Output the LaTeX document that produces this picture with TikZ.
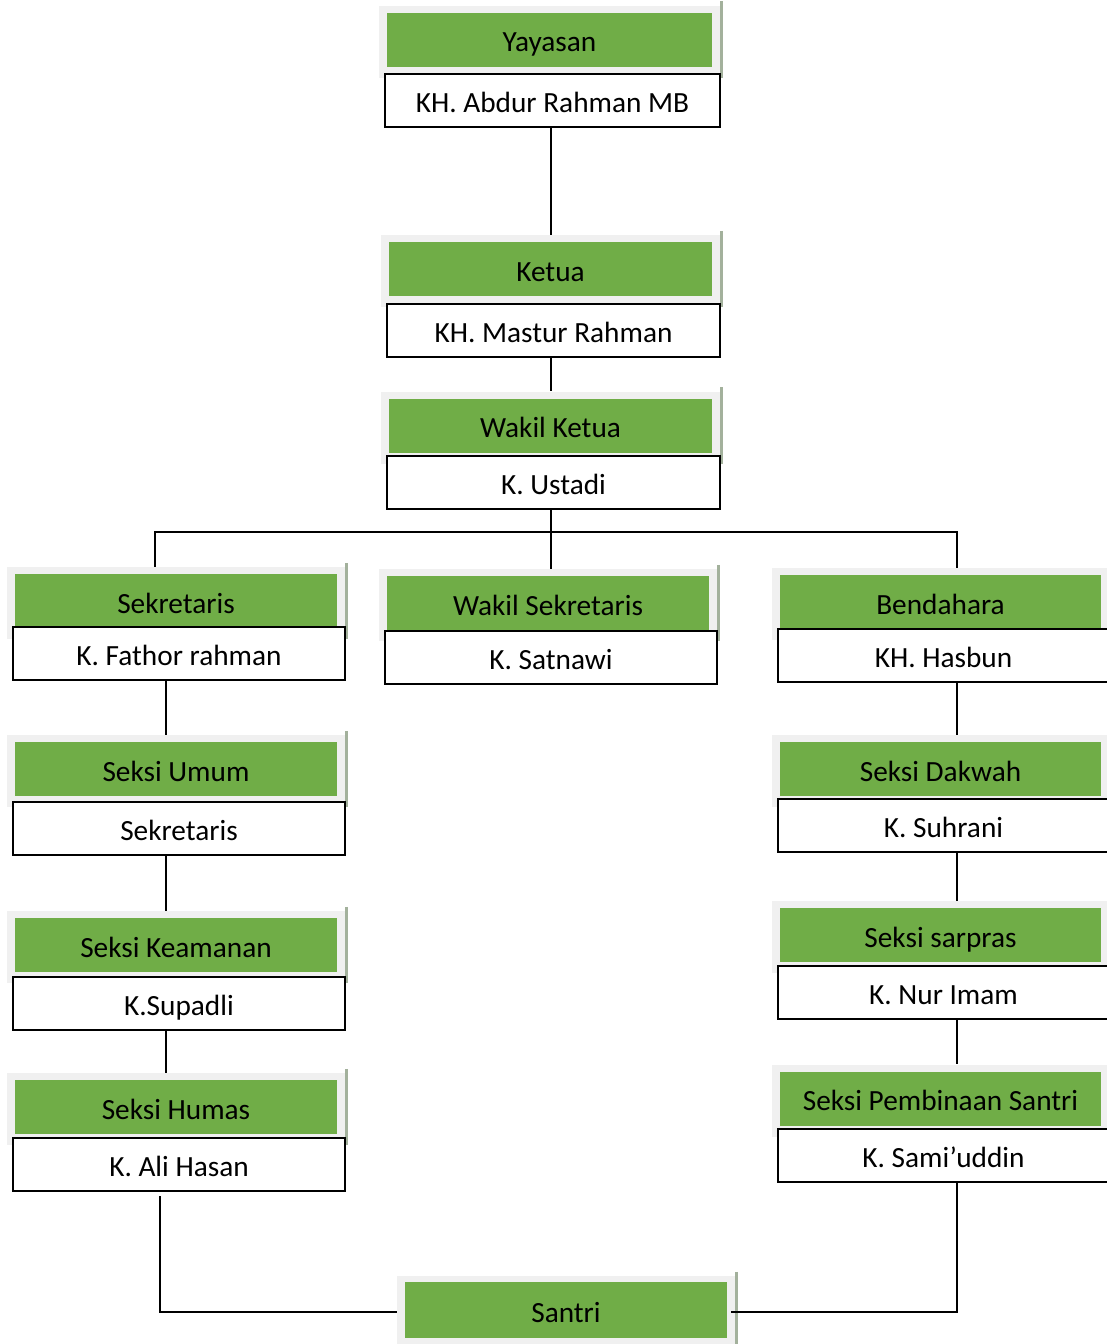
\documentclass[tikz,border=0pt]{standalone}
\usepackage{fontspec}
\setmainfont{Carlito}
\usetikzlibrary{calc,positioning}

\definecolor{headgreen}{HTML}{70AD47}
\definecolor{framegray}{HTML}{F0F0F0}
\definecolor{shadegray}{HTML}{A3B19C}

\tikzset{
  label font/.style={font=\fontsize{29.3}{35}\selectfont, text height=26, text depth=2},
  frame/.style={fill=framegray, inner sep=0pt, minimum height=72},
  head/.style={fill=headgreen, inner sep=0pt, minimum height=54, label font},
  person/.style={fill=white, draw=black, line width=2pt, inner sep=0pt, minimum height=53, label font},
  link/.style={line width=2pt, black},
  shade line/.style={line width=3pt, shadegray}
}

% #1 name, #2 x, #3 y of the green head, #4 width, #5 title, #6 person, #7 y of person
\newcommand{\orgunit}[7]{%
  \node[frame, minimum width=#4+16] (#1-f) at (#2, #3+2) {};
  \draw[shade line] ($(#1-f.north east)+(1.5,-4)$) -- ($(#1-f.south east)+(1.5,0)$);
  \node[head, minimum width=#4] (#1-t) at (#2, #3) {#5};
  \node[person, minimum width=#4+10] (#1) at (#2+3, #7) {#6};
}

\begin{document}
\begin{tikzpicture}[x=1pt, y=-1pt]
    \useasboundingbox (0,0) rectangle (1106,1344);

    \orgunit{yay}{549.5}{39.5}{325}{Yayasan}{KH. Abdur Rahman MB}{100}
    \orgunit{ket}{550.5}{269}{323}{Ketua}{KH. Mastur Rahman}{330}
    \orgunit{wk}{550.5}{425.5}{323}{Wakil Ketua}{K. Ustadi}{482.5}

    \orgunit{sek}{176}{601}{322}{Sekretaris}{K. Fathor rahman}{653.5}
    \orgunit{wsek}{548}{603}{322}{Wakil Sekretaris}{K. Satnawi}{657.5}
    \orgunit{ben}{940.5}{602}{321}{Bendahara}{KH. Hasbun}{655.5}

    \orgunit{umum}{176}{769}{322}{Seksi Umum}{Sekretaris}{828.5}
    \orgunit{keam}{176}{945}{322}{Seksi Keamanan}{K.Supadli}{1003.5}
    \orgunit{humas}{176}{1107}{322}{Seksi Humas}{K. Ali Hasan}{1164.5}

    \orgunit{dak}{940.5}{769}{321}{Seksi Dakwah}{K. Suhrani}{825}
    \orgunit{sar}{940.5}{935}{321}{Seksi sarpras}{K. Nur Imam}{992.5}
    \orgunit{pemb}{940.5}{1098.5}{321}{Seksi Pembinaan Santri}{K. Sami’uddin}{1155.5}

    % santri
    \node[frame, minimum width=338] (santri-f) at (566, 1312) {};
    \draw[shade line] ($(santri-f.north east)+(1.5,-4)$) -- ($(santri-f.south east)+(1.5,0)$);
    \node[head, minimum width=322, minimum height=56] (santri) at (566, 1310) {Santri};

    \coordinate (lcol) at (166,0);
    \coordinate (rcol) at (957,0);
    \coordinate (hx) at (160,0);
    \coordinate (bar-l) at (155,532);
    \coordinate (bar-r) at (957,532);

    \draw[link] (yay.south -| 551,0) -- (ket-f.north -| 551,0);
    \draw[link] (ket.south -| 551,0) -- (wk-f.north -| 551,0);
    \draw[link] (wk.south -| 551,0) -- (wsek-f.north -| 551,0);
    \draw[link] (sek-f.north -| bar-l) -- (bar-l) -- (bar-r) -- (ben-f.north -| bar-r);

    \draw[link] (sek.south -| lcol) -- (umum-f.north -| lcol);
    \draw[link] (umum.south -| lcol) -- (keam-f.north -| lcol);
    \draw[link] (keam.south -| lcol) -- (humas-f.north -| lcol);
    \draw[link] ([yshift=-4pt]humas.south -| hx) |- (santri-f.west);

    \draw[link] (ben.south -| rcol) -- (dak-f.north -| rcol);
    \draw[link] (dak.south -| rcol) -- (sar-f.north -| rcol);
    \draw[link] (sar.south -| rcol) -- (pemb-f.north -| rcol);
    \draw[link] ([xshift=-4pt]santri-f.east) -| (pemb.south -| rcol);
\end{tikzpicture}
\end{document}
